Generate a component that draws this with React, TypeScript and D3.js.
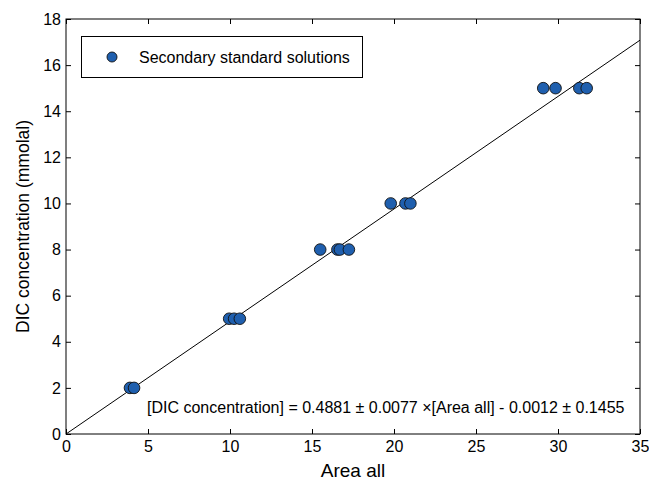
import React, { useEffect, useRef } from 'react';
import * as d3 from 'd3';

const xTicks = [0, 5, 10, 15, 20, 25, 30, 35];
const yTicks = [0, 2, 4, 6, 8, 10, 12, 14, 16, 18];
const areaAll = [3.9, 4.15, 9.95, 10.25, 10.6, 15.5, 16.55, 16.7, 17.25, 19.8, 20.7, 21.0, 29.1, 29.85, 31.3, 31.75];
const dicConc = [2, 2, 5, 5, 5, 8, 8, 8, 8, 10, 10, 10, 15, 15, 15, 15];
const slope = 0.4881;
const intercept = -0.0012;
const legendLabel = 'Secondary standard solutions';
const fitLabel = '[DIC concentration] = 0.4881 ± 0.0077 ×[Area all] - 0.0012 ± 0.1455';

const App = () => {
  const svgRef = useRef<SVGSVGElement>(null);

  useEffect(() => {
    const svg = d3.select(svgRef.current);
    svg.selectAll('*').remove();
    const font = 'Liberation Sans, Arial, sans-serif';

    const margin = { top: 19, right: 9, bottom: 48, left: 66 };
    const width = 649, height = 482;
    const innerWidth = width - margin.left - margin.right;
    const innerHeight = height - margin.top - margin.bottom;

    const x = d3.scaleLinear().domain([0, 35]).range([0, innerWidth]);
    const y = d3.scaleLinear().domain([0, 18]).range([innerHeight, 0]);

    const g = svg.append('g').attr('transform', `translate(${margin.left},${margin.top})`);

    // fit line
    const fit = d3.line<number>().x(d => x(d)).y(d => y(slope * d + intercept));
    g.append('path')
      .datum([0, 35])
      .attr('d', fit)
      .attr('fill', 'none')
      .attr('stroke', '#000')
      .attr('stroke-width', 1);

    // points
    g.selectAll('circle.pt')
      .data(areaAll.map((a, i) => [a, dicConc[i]]))
      .join('circle')
      .attr('class', 'pt')
      .attr('cx', d => x(d[0]))
      .attr('cy', d => y(d[1]))
      .attr('r', 5.8)
      .attr('fill', '#1f5fae')
      .attr('stroke', '#111')
      .attr('stroke-width', 0.9);

    // axes, ticks inward on all sides
    const styleAxis = (sel: any) => {
      sel.select('.domain').remove();
      sel.selectAll('text').attr('font-family', font).attr('font-size', 16).attr('fill', '#000');
      sel.selectAll('line').attr('stroke', '#000');
    };
    g.append('g').attr('transform', `translate(0,${innerHeight})`)
      .call(d3.axisBottom(x).tickValues(xTicks).tickSize(-5).tickPadding(7))
      .call(styleAxis);
    g.append('g')
      .call(d3.axisLeft(y).tickValues(yTicks).tickSize(-5).tickPadding(5))
      .call(styleAxis);
    g.append('g')
      .call(d3.axisTop(x).tickValues(xTicks).tickSize(-5).tickFormat(() => ''))
      .call(styleAxis);
    g.append('g').attr('transform', `translate(${innerWidth},0)`)
      .call(d3.axisRight(y).tickValues(yTicks).tickSize(-5).tickFormat(() => ''))
      .call(styleAxis);

    g.append('rect')
      .attr('width', innerWidth)
      .attr('height', innerHeight)
      .attr('fill', 'none')
      .attr('stroke', '#000')
      .attr('stroke-width', 1);

    // legend
    const lg = svg.append('g');
    lg.append('rect')
      .attr('x', 81.5).attr('y', 36.5).attr('width', 281).attr('height', 41)
      .attr('fill', '#fff').attr('stroke', '#000');
    lg.append('circle')
      .attr('cx', 112).attr('cy', 57).attr('r', 5)
      .attr('fill', '#1f5fae').attr('stroke', '#111').attr('stroke-width', 0.9);
    lg.append('text')
      .attr('x', 139).attr('y', 62.5)
      .attr('font-family', font).attr('font-size', 16)
      .text(legendLabel);

    // fit annotation
    svg.append('text')
      .attr('x', 147).attr('y', 412.5)
      .attr('font-family', font).attr('font-size', 16)
      .text(fitLabel);

    // axis titles
    svg.append('text')
      .attr('x', margin.left + innerWidth / 2).attr('y', 477)
      .attr('text-anchor', 'middle')
      .attr('font-family', font).attr('font-size', 19)
      .text('Area all');
    svg.append('text')
      .attr('transform', `translate(29,${margin.top + innerHeight / 2}) rotate(-90)`)
      .attr('text-anchor', 'middle')
      .attr('font-family', font).attr('font-size', 17.5)
      .text('DIC concentration (mmolal)');
  }, []);

  return (
    <svg ref={svgRef} width={649} height={482}
      style={{ position: 'absolute', left: 0, top: 0, background: '#fff' }} />
  );
};

export default App;
